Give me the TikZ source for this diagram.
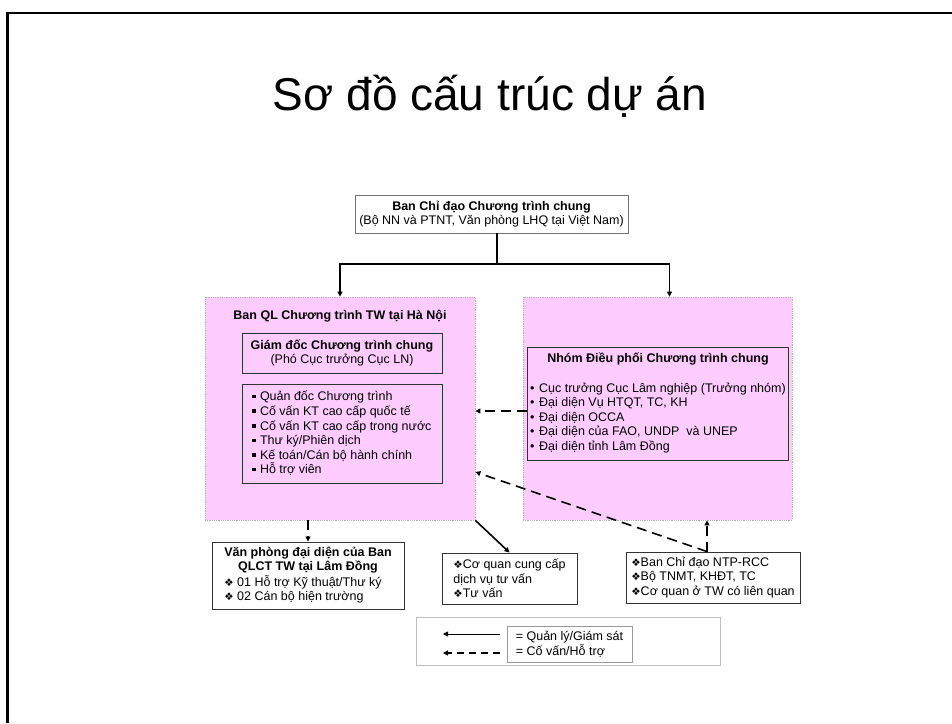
\documentclass[tikz,border=0pt]{standalone}
\usepackage{fontspec}
\setmainfont{Liberation Sans}
\newfontfamily\dejavu{DejaVu Sans}
\usetikzlibrary{arrows.meta,positioning}
\definecolor{pinkfill}{RGB}{255,204,255}
\newcommand{\sqb}{\rule[2.5pt]{3.5pt}{3.5pt}\hspace{4pt}}
\newcommand{\dia}{{\dejavu\fontsize{10.5}{10}\selectfont ❖}}

\begin{document}
\begin{tikzpicture}[x=1pt,y=-1pt,
  every node/.style={font=\fontsize{12.5}{14.6}\selectfont, inner sep=2pt},
  box/.style={draw=black!80, line width=0.9pt, minimum width=#1},
  pinkbox/.style={fill=pinkfill, draw=black!30, densely dotted, line width=0.8pt, minimum width=#1, minimum height=223pt},
  mgmt/.style={line width=1.6pt, -{Triangle[length=5pt,width=5pt]}},
  adv/.style={mgmt, dash pattern=on 10pt off 6pt}]
  \useasboundingbox (0,0) rectangle (952,723);
  \draw[line width=2.5pt] (952,13) -- (7.5,13) -- (7.5,723);
  \node[font=\fontsize{46}{50}\selectfont, anchor=base] (title) at (490,110) {Sơ đồ cấu trúc dự án};
% steering board
  \node[box=273pt, draw=black!55, minimum height=38pt, align=center, inner xsep=1pt] (top) at (491.5,214)
    {\textbf{Ban Chỉ đạo Chương trình chung}\\(Bộ NN và PTNT, Văn phòng LHQ tại Việt Nam)};
% left: management unit
  \node[pinkbox=270pt] (lbox) at (340,408.5) {};
  \node[anchor=base] (ltitle) at (340,319) {\textbf{Ban QL Chương trình TW tại Hà Nội}};
  \node[box=200pt, minimum height=40pt, align=center] (ldir) at (342,353)
    {\textbf{Giám đốc Chương trình chung}\\(Phó Cục trưởng Cục LN)};
  \node[box=200pt, minimum height=99pt, align=left] (lstaff) at (342,433.5)
    {\sqb Quản đốc Chương trình\\\sqb Cố vấn KT cao cấp quốc tế\\\sqb Cố vấn KT cao cấp trong nước\\
     \sqb Thư ký/Phiên dịch\\\sqb Kế toán/Cán bộ hành chính\\\sqb Hỗ trợ viên};
% right: coordination group
  \node[pinkbox=269pt] (rbox) at (657.5,408.5) {};
  \node[box=258pt, minimum height=113pt, inner xsep=3pt] (coord) at (658,403.5)
    {\begin{tabular}{@{}l@{}}
     \multicolumn{1}{@{}c@{}}{\textbf{Nhóm Điều phối Chương trình chung}}\\[15pt]
     •\hspace{4.5pt}Cục trưởng Cục Lâm nghiệp (Trưởng nhóm)\\
     •\hspace{4.5pt}Đại diện Vụ HTQT, TC, KH\\
     •\hspace{4.5pt}Đại diện OCCA\\
     •\hspace{4.5pt}Đại diện của FAO, UNDP~ và UNEP\\
     •\hspace{4.5pt}Đại diện tỉnh Lâm Đồng
     \end{tabular}};
% bottom row
  \node[box=192pt, minimum height=67pt, inner xsep=3pt] (office) at (308,575.5)
    {\begin{tabular}{@{}l@{}}
     \multicolumn{1}{@{}c@{}}{\textbf{Văn phòng đại diện của Ban}}\\
     \multicolumn{1}{@{}c@{}}{\textbf{QLCT TW tại Lâm Đồng}}\\
     \dia\ 01 Hỗ trợ Kỹ thuật/Thư ký\\
     \dia\ 02 Cán bộ hiện trường
     \end{tabular}};
  \node[box=135pt, minimum height=51pt, align=left] (svc) at (509.5,578.5)
    {\dia Cơ quan cung cấp\\dịch vụ tư vấn\\\dia Tư vấn};
  \node[box=174pt, minimum height=51pt, align=left] (other) at (713,577.5)
    {\dia Ban Chỉ đạo NTP-RCC\\\dia Bộ TNMT, KHĐT, TC\\\dia Cơ quan ở TW có liên quan};
% connectors
  \coordinate (split) at (497,264);
  \draw[line width=1.6pt] (top.south -| split) -- (split);
  \draw[mgmt] (split) -| (lbox.north);
  \draw[mgmt] (split) -| ([xshift=12pt]rbox.north);
  \coordinate (da) at ([yshift=-7.5pt]coord.west);
  \draw[adv] (da) -- (da -| lbox.east);
  \coordinate (db) at ([xshift=-6pt]other.north);
  \draw[adv] (db) -- (db |- rbox.south);
  \draw[adv] (db) -- ([yshift=-63.5pt]lbox.east);
  \draw[mgmt] (lbox.south east) -- (svc.north);
  \draw[adv] (office.north |- lbox.south) -- (office.north);
% legend
  \node[draw=black!25, line width=0.8pt, minimum width=304pt, minimum height=48pt] (legend) at (568,641) {};
  \node[draw=black!40, line width=0.8pt, minimum width=125pt, minimum height=36pt, align=left] (legtext) at (569.5,644)
    {= Quản lý/Giám sát\\= Cố vấn/Hỗ trợ};
  \coordinate (m1) at (500,634);
  \coordinate (m2) at (443,634);
  \coordinate (d1) at (500,653);
  \coordinate (d2) at (443,653);
  \draw[mgmt, line width=0.8pt] (m1) -- (m2);
  \draw[adv, line width=1.4pt, dash pattern=on 7pt off 5pt] (d1) -- (d2);
\end{tikzpicture}
\end{document}
